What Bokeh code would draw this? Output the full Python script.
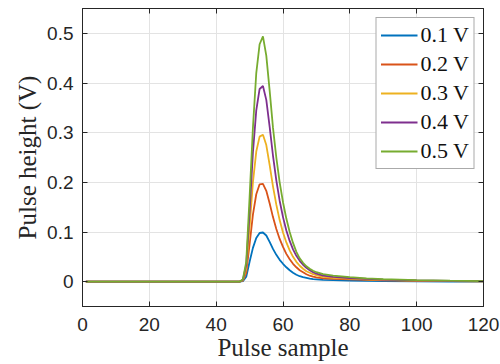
from bokeh.plotting import figure
from bokeh.models import Range1d, FixedTicker, LinearAxis, Legend, LegendItem
from bokeh.embed import file_html
from bokeh.resources import INLINE

samples = [1, 46, 47, 48, 49, 50, 51, 52, 53, 54, 55, 56, 57, 58, 59, 60, 61, 62, 63, 64,
           65, 66, 67, 68, 69, 70, 72, 75, 80, 85, 90, 100, 110, 120]

v01 = [0, 0, 0, 0.001, 0.01, 0.04, 0.068, 0.088, 0.098, 0.099, 0.093, 0.08, 0.066, 0.054, 0.044,
       0.036, 0.029, 0.023, 0.018, 0.014, 0.011, 0.009, 0.0075, 0.006, 0.005, 0.0045, 0.0035,
       0.003, 0.002, 0.0015, 0.001, 0.0005, 0.0003, 0.0002]
v02 = [0, 0, 0, 0.002, 0.018, 0.075, 0.135, 0.176, 0.196, 0.197, 0.183, 0.158, 0.13, 0.106, 0.086,
       0.07, 0.056, 0.045, 0.036, 0.029, 0.023, 0.019, 0.015, 0.012, 0.010, 0.0085, 0.0068,
       0.0055, 0.0045, 0.0035, 0.0025, 0.0015, 0.001, 0.0005]
v03 = [0, 0, 0, 0.003, 0.026, 0.11, 0.2, 0.262, 0.292, 0.296, 0.275, 0.235, 0.192, 0.155, 0.124,
       0.099, 0.079, 0.063, 0.05, 0.04, 0.032, 0.026, 0.021, 0.018, 0.015, 0.013, 0.0095,
       0.0075, 0.006, 0.0047, 0.0036, 0.0021, 0.0013, 0.0008]
v04 = [0, 0, 0, 0.004, 0.034, 0.14, 0.26, 0.345, 0.388, 0.394, 0.366, 0.312, 0.254, 0.204, 0.163,
       0.13, 0.103, 0.082, 0.065, 0.052, 0.042, 0.034, 0.028, 0.023, 0.019, 0.016, 0.012,
       0.0095, 0.0072, 0.0055, 0.0042, 0.0026, 0.0016, 0.001]
v05 = [0, 0, 0, 0.005, 0.04, 0.17, 0.31, 0.42, 0.478, 0.494, 0.455, 0.385, 0.31, 0.25, 0.2,
       0.16, 0.127, 0.1, 0.078, 0.06, 0.047, 0.038, 0.031, 0.026, 0.022, 0.019, 0.015,
       0.012, 0.009, 0.0068, 0.005, 0.003, 0.0019, 0.0012]

series = [v01, v02, v03, v04, v05]
labels = ["0.1 V", "0.2 V", "0.3 V", "0.4 V", "0.5 V"]
colors = ["#0072BD", "#D95319", "#EDB120", "#7E2F8E", "#77AC30"]

x_ticks = [0, 20, 40, 60, 80, 100, 120]
y_ticks = [0, 0.1, 0.2, 0.3, 0.4, 0.5]
y_tick_labels = ["0", "0.1", "0.2", "0.3", "0.4", "0.5"]

AX = "#262626"
SANS = "Liberation Sans"
SERIF = "Liberation Serif"

p = figure(output_backend="svg", toolbar_location=None,
           x_range=Range1d(0, 120), y_range=Range1d(-0.05, 0.55),
           frame_width=401, frame_height=298,
           min_border_left=82, min_border_right=17, min_border_top=8, min_border_bottom=56)
p.background_fill_color = "white"
p.border_fill_color = "white"
p.outline_line_color = AX
p.outline_line_width = 1

items = []
for ys, lab, c in zip(series, labels, colors):
    r = p.line(samples, ys, line_color=c, line_width=1.8)
    items.append(LegendItem(label=lab, renderers=[r]))

for ax in [p.xaxis[0], p.yaxis[0]]:
    ax.axis_line_color = AX
    ax.major_tick_line_color = AX
    ax.major_tick_in = 5
    ax.major_tick_out = 0
    ax.minor_tick_line_color = None
    ax.major_label_text_font = SANS
    ax.major_label_text_font_size = "19px"
    ax.major_label_text_color = AX
    ax.axis_label_text_font = SERIF
    ax.axis_label_text_font_style = "normal"
    ax.axis_label_text_font_size = "25px"
    ax.axis_label_text_color = AX

p.xaxis[0].ticker = FixedTicker(ticks=x_ticks)
p.yaxis[0].ticker = FixedTicker(ticks=y_ticks)
p.yaxis[0].major_label_overrides = {t: s for t, s in zip(y_ticks, y_tick_labels)}
p.xaxis[0].major_label_standoff = 11
p.yaxis[0].major_label_standoff = 9
p.xaxis[0].axis_label = "Pulse sample"
p.yaxis[0].axis_label = "Pulse height (V)"
p.xaxis[0].axis_label_standoff = 0
p.yaxis[0].axis_label_standoff = 3

for loc, tk in [("right", y_ticks), ("above", x_ticks)]:
    a = LinearAxis(ticker=FixedTicker(ticks=tk))
    a.axis_line_color = AX
    a.major_tick_line_color = AX
    a.major_tick_in = 5
    a.major_tick_out = 0
    a.minor_tick_line_color = None
    a.major_label_text_font_size = "0px"
    a.major_label_standoff = 0
    a.major_label_text_color = None
    p.add_layout(a, loc)

p.xgrid.ticker = FixedTicker(ticks=x_ticks)
p.ygrid.ticker = FixedTicker(ticks=y_ticks)
p.xgrid.grid_line_color = "#e3e3e3"
p.ygrid.grid_line_color = "#e3e3e3"

legend = Legend(items=items, location="top_right")
legend.label_text_font = SERIF
legend.label_text_font_size = "22px"
legend.label_text_color = "#111111"
legend.glyph_width = 37
legend.glyph_height = 24
legend.label_height = 24
legend.label_standoff = 3
legend.spacing = 3
legend.padding = 4
legend.margin = 9
legend.border_line_color = "#555555"
legend.border_line_width = 1
legend.background_fill_color = "white"
legend.background_fill_alpha = 1.0
p.add_layout(legend)

open("out.html", "w").write(file_html(p, INLINE))
